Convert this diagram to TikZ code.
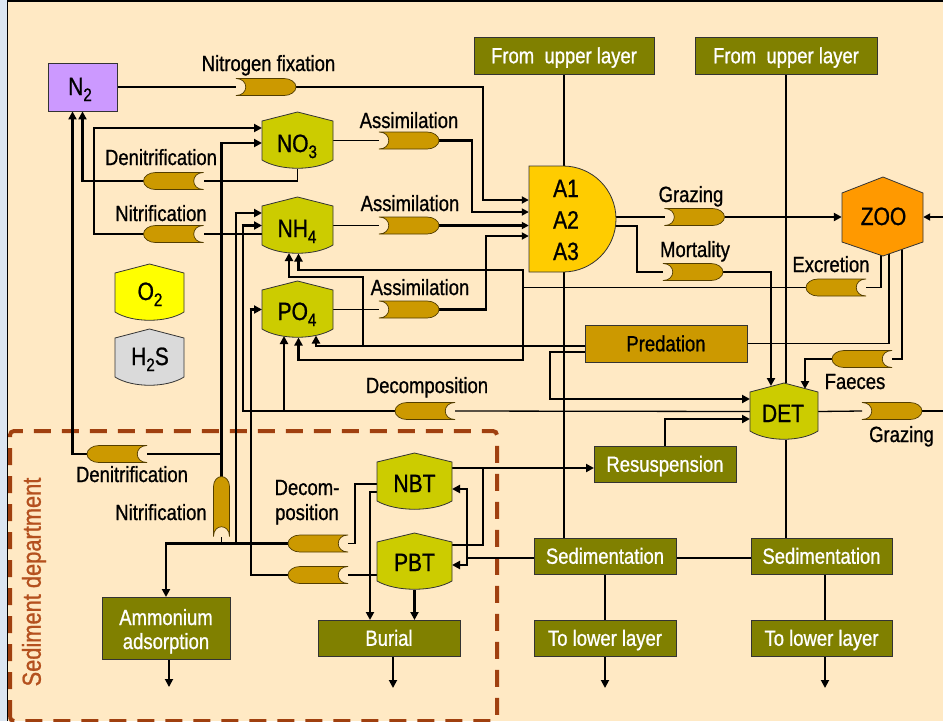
\documentclass[tikz,border=0pt]{standalone}
\usepackage{fontspec}
\setmainfont{Liberation Sans}[FakeStretch=0.84,FakeBold=0.9]
\usepackage{graphicx}
\usetikzlibrary{arrows.meta,calc}
\pgfdeclarelayer{back}
\pgfdeclarelayer{bg}
\pgfsetlayers{back,bg,main}
\definecolor{bgpeach}{HTML}{FFE9C4}
\definecolor{olivebox}{HTML}{808000}
\definecolor{tankfill}{HTML}{CCCC00}
\definecolor{pillfill}{HTML}{CC9900}
\definecolor{afill}{HTML}{FFCC00}
\definecolor{zoofill}{HTML}{FF9900}
\definecolor{ntwofill}{HTML}{CC99FF}
\definecolor{otwofill}{HTML}{FFFF00}
\definecolor{hsfill}{HTML}{DADADA}
\definecolor{sedline}{HTML}{A0400F}
\definecolor{sedtext}{HTML}{B4501E}
\definecolor{stripc}{HTML}{DCE6F2}
\newcommand\lblfont{\fontsize{22pt}{26pt}\selectfont}
\newcommand\nodefont{\fontsize{25pt}{29pt}\selectfont}
\newcommand\sedfont{\fontsize{26pt}{29pt}\selectfont}
\newcommand\sbs[1]{\raisebox{-6pt}{\fontsize{18pt}{18pt}\selectfont #1}}
% tank shape: name, left, top, width, fill
\newcommand\tank[5]{%
  \filldraw[shp, fill=#5] (#2,#3+9) -- (#2+#4/2,#3) -- (#2+#4,#3+9) -- (#2+#4,#3+48)
    .. controls (#2+#4*0.75,#3+59) and (#2+#4*0.25,#3+59) .. (#2,#3+48) -- cycle;
  \node[inner sep=0pt, outer sep=0pt, minimum width=#4pt, minimum height=57pt] (#1) at (#2+#4/2,#3+28.5) {};}
% pills: name, cx, cy
\newcommand\pillR[3]{%
  \filldraw[pill] (#2-30,#3-8.5) -- (#2+18,#3-8.5) .. controls (#2+24.6,#3-8.5) and (#2+30,#3-4.7) .. (#2+30,#3)
    .. controls (#2+30,#3+4.7) and (#2+24.6,#3+8.5) .. (#2+18,#3+8.5) -- (#2-30,#3+8.5)
    .. controls (#2-17,#3+8.5) and (#2-17,#3-8.5) .. (#2-30,#3-8.5) -- cycle;
  \node[pillbox] (#1) at (#2,#3) {};}
\newcommand\pillL[3]{%
  \filldraw[pill] (#2+30,#3-8.5) -- (#2-18,#3-8.5) .. controls (#2-24.6,#3-8.5) and (#2-30,#3-4.7) .. (#2-30,#3)
    .. controls (#2-30,#3+4.7) and (#2-24.6,#3+8.5) .. (#2-18,#3+8.5) -- (#2+30,#3+8.5)
    .. controls (#2+17,#3+8.5) and (#2+17,#3-8.5) .. (#2+30,#3-8.5) -- cycle;
  \node[pillbox] (#1) at (#2,#3) {};}
\newcommand\pillU[3]{%
  \filldraw[pill] (#2-8,#3+30) -- (#2-8,#3-20) .. controls (#2-8,#3-25.5) and (#2-4.4,#3-30) .. (#2,#3-30)
    .. controls (#2+4.4,#3-30) and (#2+8,#3-25.5) .. (#2+8,#3-20) -- (#2+8,#3+30)
    .. controls (#2+8,#3+17) and (#2-8,#3+17) .. (#2-8,#3+30) -- cycle;
  \node[pillbox, minimum width=16pt, minimum height=60pt] (#1) at (#2,#3) {};}
\begin{document}
\begin{tikzpicture}[x=1pt,y=-1pt,
  thn/.style={line width=1.3pt},
  thk/.style={line width=2.6pt},
  arr/.style={-{Triangle[length=8pt,width=8pt]}},
  sarr/.style={-{Triangle[length=7pt,width=7pt]}},
  shp/.style={draw=black!80, line width=0.8pt},
  pill/.style={draw=black!60!pillfill, line width=0.7pt, fill=pillfill},
  pillbox/.style={inner sep=0pt, outer sep=0pt, minimum width=60pt, minimum height=17pt},
  obox/.style={draw=black!80, line width=0.8pt, fill=olivebox, text=white, font=\lblfont,
    inner sep=0pt, outer sep=0pt, minimum width=142pt, minimum height=36pt, text height=15.5pt, text depth=0pt},
  lbl/.style={font=\lblfont, inner sep=0pt, anchor=base},
  ntxt/.style={font=\nodefont, inner sep=0pt, anchor=base}
]
\useasboundingbox (0,0) rectangle (943,721);
\begin{pgfonlayer}{back}
  \fill[bgpeach] (0,0) rectangle (943,721);
  \fill[stripc] (0,0) rectangle (7,721);
  \draw[line width=1.5pt] (7.5,721) -- (7.5,1) -- (943,1);
\end{pgfonlayer}

% ---------- boxes ----------
\node[shp, fill=ntwofill, minimum width=69pt, minimum height=48pt, inner sep=0pt] (N2) at (82.5,87) {};
\node[ntxt] (N2t) at (80,95) {N\sbs{2}};
\node[obox, minimum width=180pt, minimum height=37pt] (FU1) at (564,55.5) {From~~upper layer};
\node[obox, minimum width=182pt, minimum height=37pt] (FU2) at (786,55.5) {From~~upper layer};
\node[obox, fill=pillfill, text=black, minimum width=162pt, minimum height=37pt] (Pred) at (666,343.5) {Predation};
\node[obox] (Res) at (665,464) {Resuspension};
\node[obox] (Sed1) at (605,556) {Sedimentation};
\node[obox, minimum width=141pt] (Sed2) at (821.5,556) {Sedimentation};
\node[obox] (TL1) at (605,638) {To lower layer};
\node[obox, minimum width=141pt] (TL2) at (821.5,638) {To lower layer};
\node[obox] (Bur) at (389,638) {Burial};
\node[obox, minimum width=128pt, minimum height=62pt] (Amm) at (166,628) {};
\node[lbl, text=white] (Ammt1) at (166,625) {Ammonium};
\node[lbl, text=white] (Ammt2) at (166,649) {adsorption};

% ---------- tanks ----------
\tank{NO3}{262}{112}{71}{tankfill}
\tank{NH4}{262}{197}{71}{tankfill}
\tank{PO4}{262}{281}{71}{tankfill}
\tank{O2}{115}{264}{69}{otwofill}
\tank{H2S}{115}{329}{69}{hsfill}
\tank{NBT}{377}{453}{75}{tankfill}
\tank{PBT}{377}{533}{75}{tankfill}
\tank{DET}{750}{383}{68}{tankfill}
\node[ntxt] (NO3t) at (297,152) {NO\sbs{3}};
\node[ntxt] (NH4t) at (297,237) {NH\sbs{4}};
\node[ntxt] (PO4t) at (297,320) {PO\sbs{4}};
\node[ntxt] (O2t) at (150,300) {O\sbs{2}};
\node[ntxt] (H2St) at (150,365) {H\sbs{2}S};
\node[ntxt] (NBTt) at (414.5,492) {NBT};
\node[ntxt] (PBTt) at (414.5,571) {PBT};
\node[ntxt] (DETt) at (783,422) {DET};

% ---------- algae ----------
\filldraw[shp, fill=afill] (529,166) -- (563,166) .. controls (592.3,166) and (616,189.7) .. (616,219)
  .. controls (616,248.3) and (592.3,272) .. (563,272) -- (529,272) -- cycle;
\node[inner sep=0pt, minimum width=87pt, minimum height=106pt] (A) at (572.5,219) {};
\node[ntxt] (A1) at (566,197) {A1};
\node[ntxt] (A2) at (566,228.5) {A2};
\node[ntxt] (A3) at (566,260) {A3};

% ---------- zooplankton ----------
\filldraw[shp, fill=zoofill] (883,177) -- (923,193) -- (923,242) -- (883,256) -- (842,242) -- (842,193) -- cycle;
\node[inner sep=0pt, minimum width=81pt, minimum height=79pt] (ZOO) at (882.5,216.5) {};
\node[ntxt] (ZOOt) at (883.5,225) {ZOO};

% ---------- pills ----------
\pillR{nfix}{266}{87}
\pillR{as1}{409}{140.5}
\pillR{as2}{409}{225.5}
\pillR{as3}{409}{309.5}
\pillL{den}{173.5}{181}
\pillL{nit}{173.5}{234}
\pillR{gr1}{694.5}{217}
\pillR{mor}{693}{272}
\pillL{exc}{836}{287.5}
\pillL{fae}{862}{359}
\pillL{dec}{425}{411}
\pillR{gr2}{892}{411}
\pillL{sden}{117}{454}
\pillU{snit}{221.5}{506.5}
\pillL{sdec1}{318}{543.5}
\pillL{sdec2}{318}{575}

% ---------- labels ----------
\node[lbl] (l1) at (268.5,71) {Nitrogen fixation};
\node[lbl] (l2) at (409,128) {Assimilation};
\node[lbl] (l3) at (410,211) {Assimilation};
\node[lbl] (l4) at (420,295) {Assimilation};
\node[lbl] (l5) at (161,165) {Denitrification};
\node[lbl] (l6) at (161,221) {Nitrification};
\node[lbl] (l7) at (691,202) {Grazing};
\node[lbl] (l8) at (695,257) {Mortality};
\node[lbl] (l9) at (831,272) {Excretion};
\node[lbl] (l10) at (855,389) {Faeces};
\node[lbl] (l11) at (901.5,442) {Grazing};
\node[lbl] (l12) at (427,393) {Decomposition};
\node[lbl] (l13) at (132,482) {Denitrification};
\node[lbl] (l14) at (161,520) {Nitrification};
\node[lbl] (l15) at (307,495) {Decom-};
\node[lbl] (l16) at (307,520) {position};
\node[font=\sedfont, text=sedtext, rotate=90, inner sep=0pt] (sedlbl) at (34,582) {Sediment department};

% ---------- free ends ----------
\coordinate (zin) at (943,217);
\coordinate (gout) at (943,411);
\coordinate (o1) at (169,687);
\coordinate (o2) at (393,688);
\coordinate (o3) at (605,688);
\coordinate (o4) at (825,688);

% ---------- connectors ----------
\begin{pgfonlayer}{bg}
  \draw[sedline, line width=4pt, dash pattern=on 17pt off 11pt, rounded corners=4pt]
    (10,721) -- (10,431) -- (497,431) -- (497,721) -- cycle;
  % nitrogen fixation and assimilation
  \draw[thn] (N2.east) -- (nfix.west);
  \draw[thk,sarr] (nfix.east) -| (483,200) -- (A.west |- 0,200);
  \draw[thn] (NO3.east) -- (as1.west);
  \draw[thk,sarr] (as1.east) -| (472,212) -- (A.west |- 0,212);
  \draw[thn] (NH4.east) -- (as2.west);
  \draw[thk,sarr] (as2.east) -- (A.west |- as2.east);
  \draw[thn] (PO4.east) -- (as3.west);
  \draw[thk,sarr] (as3.east) -| (486,236) -- (A.west |- 0,236);
  % water column nitrification / denitrification
  \draw[thn] (NH4.west |- 0,234) -- (nit.east);
  \draw[thn] (nit.west) -| (94,127);
  \draw[thk,arr] (94,128) -- (NO3.west |- 0,128);
  \draw[thn] (NO3.south) |- (den.east);
  \draw[thk,arr] (den.west) -| (N2.south);
  % sediment denitrification / nitrification
  \draw[thn] (sden.east) -- (222,454);
  \draw[thk,arr] (sden.west) -| ($(N2.south)+(-10,0)$);
  \draw[thk,arr] (snit.north) |- (NO3.west |- 0,143);
  % NBT decomposition
  \draw[thn] (NBT.west |- 0,484) -| (355,543.5) -- (sdec1.east);
  \draw[thk] (sdec1.west) -- (166,543.5);
  \draw[thk,arr] (166,542.2) -- (Amm.north);
  \draw[thn] (221.5,543.5) -- (snit.south);
  \draw[thn] (236,543.5) -- (236,214);
  \draw[thk,arr] (234.7,213) -- (NH4.west |- 0,213);
  % PBT decomposition
  \draw[thn] (PBT.west |- 0,575) -- (sdec2.east);
  \draw[thn] (sdec2.west) -| (251,310);
  \draw[thk,arr] (249.7,309.5) -- (PO4.west |- 0,309.5);
  % DET decomposition
  \draw[thn] (DET.west) -- (dec.east);
  \draw[thn] (dec.west) -| (243,226);
  \draw[thk,arr] (241.7,225.5) -- (NH4.west |- 0,225.5);
  \draw[thk,arr] (284,411.6) -- (284,336);
  % predation returns
  \draw[thn] (Pred.west |- 0,346) -- (363,346);
  \draw[thk,arr] (363,346) -| (316,335.5);
  \draw[thk,arr] (363,346) |- (289,277) -- (289,253);
  \draw[thk,arr] (Pred.west |- 0,352) -| (550,399) -- (DET.west |- 0,399);
  % excretion
  \draw[thn] (ZOO.center -| 881,0) |- (exc.east);
  \draw[thn] (exc.west) -- (523,287.5);
  \draw[thk,arr] (523,288) -- (523,270) -| (298.5,253.5);
  \draw[thk,arr] (523,287) -- (523,360) -| (298.5,337.5);
  % zooplankton
  \draw[thn] (A.east |- 0,217) -- (gr1.west);
  \draw[thk,arr] (gr1.east) -- (ZOO.west |- 0,217);
  \draw[thk,sarr] (zin) -- (ZOO.east |- zin);
  \draw[thn] (Pred.east) -| (ZOO.center -| 889,0);
  \draw[thn] (ZOO.center -| 902,0) |- (fae.east);
  \draw[thk,arr] (fae.west) -| (805,389);
  \draw[thn] ($(A.east)+(-20,7)$) -| (637,272) -- (mor.west);
  \draw[thk,arr] (mor.east) -| (771,386);
  % vertical exchange
  \draw[thn] (FU1.south) -- (FU1.south |- Sed1.north);
  \draw[thn] (FU2.south) -- (FU2.south |- DET.north);
  \draw[thn] (DET.south -| 786,0) -- (786,538);
  \draw[thn] (Sed1.south) -- (TL1.north);
  \draw[thn] (Sed2.south -| 825,0) -- (825,620);
  \draw[line width=1.8pt,arr] (TL1.south) -- (o3);
  \draw[line width=1.8pt,arr] (TL2.south -| o4) -- (o4);
  \draw[line width=1.8pt,arr] (Amm.south -| o1) -- (o1);
  \draw[line width=1.8pt,arr] (Bur.south -| o2) -- (o2);
  \draw[thk] (Sed2.west |- 0,558) -- (Sed1.east |- 0,558);
  \draw[thk] (Sed1.west |- 0,558) -- (467,558);
  \draw[thk,arr] (467,559) |- (NBT.east |- 0,489);
  \draw[thk,arr] (467,557) |- (PBT.east |- 0,565);
  % resuspension, burial
  \draw[thk,arr] (NBT.east |- 0,468) -- (Res.west |- 0,468);
  \draw[thn] (PBT.east |- 0,545) -| (483,468);
  \draw[thk,arr] (Res.north) |- (DET.west |- 0,419);
  \draw[thk,arr] (NBT.west |- 0,492) -| (Bur.north -| 370,0);
  \draw[thk,arr] (PBT.south) -- (PBT.south |- Bur.north);
  % DET grazing
  \draw[thn] (DET.east) -- (gr2.west);
  \draw[thk] (gr2.east) -- (gout);
\end{pgfonlayer}
\end{tikzpicture}
\end{document}
